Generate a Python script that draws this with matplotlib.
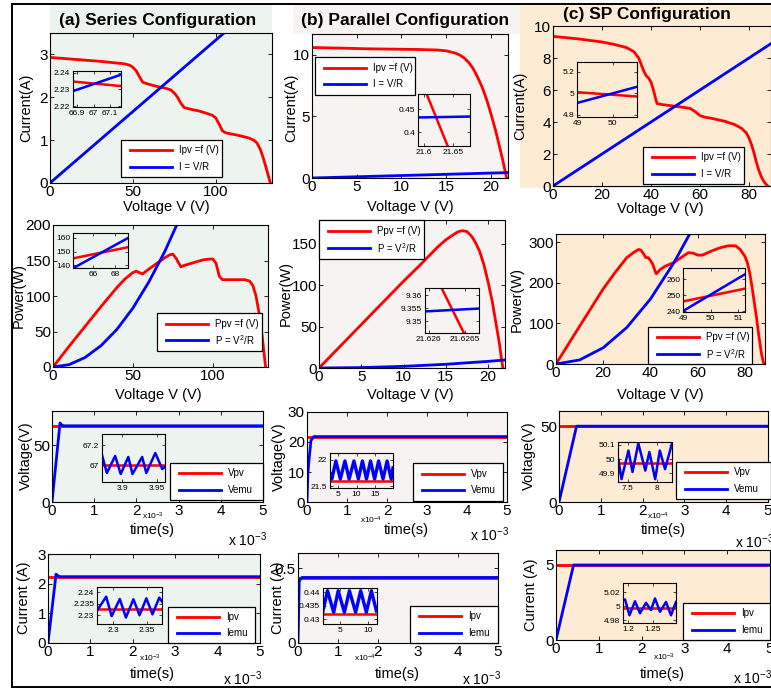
import matplotlib
matplotlib.use("Agg")
import matplotlib.pyplot as plt
from matplotlib.patches import Rectangle
from matplotlib.lines import Line2D

plt.rcParams['font.family'] = 'Liberation Sans'
plt.rcParams['mathtext.fontset'] = 'custom'
plt.rcParams['mathtext.rm'] = 'Liberation Sans'
plt.rcParams['mathtext.it'] = 'Liberation Sans:italic'
plt.rcParams['mathtext.bf'] = 'Liberation Sans:bold'

W, H = 771, 690
RED = '#ff0000'
BLUE = '#0000ff'
BG = {'a': '#edf3ee', 'b': '#f7f3f2', 'c': '#fdebd3'}

# ---------------- I-V and P-V curves ----------------
# series configuration
v_ser = [0, 10, 20, 30, 40, 45, 48, 50, 52, 54, 56, 60, 65, 70, 73, 75, 77, 79, 81,
         85, 90, 95, 98, 100, 102, 104, 106, 110, 115, 120, 123, 125, 127, 129, 131, 133]
i_ser = [2.93, 2.90, 2.87, 2.84, 2.80, 2.78, 2.75, 2.70, 2.62, 2.48, 2.35, 2.30, 2.25,
         2.21, 2.17, 2.10, 2.00, 1.86, 1.76, 1.72, 1.68, 1.62, 1.58, 1.52, 1.38, 1.22,
         1.17, 1.14, 1.10, 1.05, 1.00, 0.93, 0.78, 0.55, 0.28, 0.0]
v_ser_load = [0, 105]
i_ser_load = [0, 3.5]
v_ser_p = [0, 10, 20, 30, 40, 45, 50, 52, 54, 56, 60, 65, 70, 73, 75, 77, 79, 80, 82,
           88, 94, 98, 100, 102, 104, 106, 110, 115, 120, 123, 125, 127, 129, 131, 133]
p_ser = [0, 29, 57, 85, 112, 124, 133, 135, 133, 131, 138, 146, 154, 158, 159, 153, 145,
         141, 143, 147, 151, 152, 152, 146, 128, 123, 123, 123, 123, 121, 115, 100, 75, 40, 0]
v_ser_pload = [0, 10, 20, 30, 40, 50, 60, 70, 78]
p_ser_load = [0, 3.3, 13.3, 30, 53, 83, 120, 163, 203]

# parallel configuration
v_par = [0, 2, 4, 6, 8, 10, 12, 14, 15, 16, 16.5, 17, 17.5, 18, 18.5, 19, 19.5, 20,
         20.5, 21, 21.3, 21.6, 21.75]
i_par = [10.6, 10.57, 10.54, 10.5, 10.48, 10.46, 10.44, 10.4, 10.33, 10.15, 10.0, 9.75,
         9.4, 8.9, 8.2, 7.4, 6.4, 5.2, 3.9, 2.4, 1.5, 0.49, 0.0]
v_par_load = [0, 21.9]
i_par_load = [0, 0.438]
p_par = [0, 21, 42, 63, 84, 105, 125, 146, 155, 162, 165, 166, 165, 160, 152, 141, 125,
         104, 80, 50, 32, 10, 0]
v_par_pload = [0, 5, 10, 15, 20, 21.9]
p_par_load = [0, 0.5, 2, 4.5, 8, 9.6]

# series-parallel configuration
v_sp = [0, 10, 20, 25, 30, 33, 35, 36, 37, 38, 39, 40, 41, 42, 42.5, 45, 48, 50, 53, 56,
        58, 60, 62, 65, 70, 74, 77, 79, 80, 81, 82, 83, 84, 85, 86, 87, 87.7]
i_sp = [9.35, 9.2, 9.0, 8.85, 8.65, 8.4, 8.0, 7.6, 7.2, 6.9, 6.75, 6.5, 6.0, 5.4, 5.15,
        5.08, 5.02, 4.98, 4.92, 4.85, 4.65, 4.4, 4.3, 4.22, 4.05, 3.85, 3.6, 3.3, 3.0,
        2.6, 2.1, 1.5, 1.0, 0.6, 0.3, 0.1, 0.0]
v_sp_load = [0, 89]
i_sp_load = [0, 8.9]
v_sp_p = [0, 10, 20, 25, 30, 33, 35, 36, 37, 38, 39, 40, 41, 42, 42.5, 44, 46, 48, 50,
          53, 56, 58, 60, 62, 65, 68, 70, 73, 76, 78, 80, 81, 82, 83, 84, 85, 86, 87, 88]
p_sp = [0, 93, 185, 225, 262, 275, 282, 280, 272, 262, 262, 255, 245, 228, 222, 232, 240,
        245, 250, 262, 274, 273, 268, 268, 276, 283, 287, 291, 291, 282, 265, 250, 225,
        190, 150, 110, 65, 25, 0]
v_sp_pload = [0, 10, 20, 30, 40, 50, 56.6]
p_sp_load = [0, 10, 40, 90, 160, 250, 320]

# zoomed views of the operating points
z_ser_v = [66.875, 67.165]
z_ser_ipv = [2.2347, 2.2320]
z_ser_iload = [2.2290, 2.2388]
z_par_v = [21.604, 21.642]
z_par_ipv = [0.486, 0.368]
z_par_vload = [21.59, 21.68]
z_par_iload = [0.432, 0.434]
z_sp_v = [49, 50.69]
z_sp_ipv = [5.01, 4.97]
z_sp_iload = [4.91, 5.06]
z_ser_vp = [64.2, 69.2]
z_ser_ppv = [144.9, 153.2]
z_ser_pload = [137.6, 160.0]
z_par_vp = [21.62618, 21.62649]
z_par_ppv = [9.3627, 9.3454]
z_par_vpload = [21.62595, 21.6267]
z_par_pload = [9.3537, 9.3548]
z_sp_vp = [49, 51.25]
z_sp_ppv = [246, 254]
z_sp_pload = [240, 263]

# ---------------- emulator transients (time in ms) ----------------
t_span = [0, 5]
vpv_ser, vpv_par, vpv_sp = 67.0, 21.6, 50.0
t_vemu_ser = [0, 0.19, 0.22, 0.27, 5]
vemu_ser = [0, 69.5, 68, 67, 67]
t_vemu_par = [0, 0.02, 0.05, 0.1, 0.17, 5]
vemu_par = [0, 9, 14, 20.5, 21.8, 21.8]
t_vemu_sp = [0, 0.42, 5]
vemu_sp = [0, 50, 50]
ipv_ser, ipv_par, ipv_sp = 2.2325, 0.4318, 4.997
t_iemu_ser = [0, 0.19, 0.23, 0.28, 5]
iemu_ser = [0, 2.32, 2.27, 2.235, 2.235]
t_iemu_par = [0, 0.015, 0.03, 0.06, 0.1, 5]
iemu_par = [0, 0.2, 0.41, 0.425, 0.437, 0.437]
t_iemu_sp = [0, 0.41, 5]
iemu_sp = [0, 5.0, 5.0]

# ripple around the steady state
zt_vser = [3.871, 3.878, 3.890, 3.898, 3.909, 3.915, 3.929, 3.935, 3.948, 3.958, 3.962]
zv_vser = [67.10, 66.92, 67.09, 66.91, 67.08, 66.91, 67.08, 66.92, 67.12, 66.96, 66.98]
zt_vpar = [2.8, 3.3, 4.4, 5.6, 6.85, 8.0, 9.3, 10.5, 11.6, 12.7, 13.8, 14.9, 16.0, 17.2,
           18.3, 19.4, 19.9]
zv_vpar = [21.75, 21.64, 21.98, 21.64, 21.98, 21.64, 21.98, 21.64, 21.98, 21.64, 21.98,
           21.64, 21.98, 21.64, 21.98, 21.64, 21.85]
zt_vsp = [7.336, 7.39, 7.51, 7.58, 7.68, 7.80, 7.87, 7.97, 8.05, 8.14, 8.26]
zv_vsp = [50.0, 49.86, 50.06, 49.91, 50.11, 49.92, 50.05, 49.86, 50.06, 49.93, 50.11]
zt_iser = [2.277, 2.290, 2.298, 2.310, 2.319, 2.330, 2.339, 2.349, 2.358, 2.368, 2.372]
zi_iser = [2.2322, 2.2380, 2.2296, 2.2370, 2.2290, 2.2369, 2.2300, 2.2373, 2.2304,
           2.2376, 2.2359]
zt_ipar = [2.0, 2.8, 3.9, 4.7, 5.8, 6.7, 7.8, 8.7, 9.7, 10.6, 11.5]
zi_ipar = [0.433, 0.4405, 0.4325, 0.4405, 0.4325, 0.4405, 0.4325, 0.4405, 0.4325, 0.4405,
           0.433]
zt_isp = [1.19, 1.194, 1.203, 1.214, 1.224, 1.236, 1.246, 1.254, 1.264, 1.276, 1.286, 1.296]
zi_isp = [5.0085, 5.0095, 4.987, 5.007, 4.990, 5.0047, 4.9944, 5.011, 4.992, 5.006,
          4.987, 5.006]

fig = plt.figure(figsize=(W / 100, H / 100), dpi=100)


def fx(x):
    return x / W


def fy(y):
    return 1 - y / H


def fbox(l, t, r, b):
    return [l / W, 1 - b / H, (r - l) / W, (b - t) / H]


def fmt(v):
    return f'{v:g}'


def main_axes(rect, col, xlim, ylim, xticks, yticks, xlabel, ylabel, xl, yl):
    ax = fig.add_axes(fbox(*rect))
    ax.set_facecolor(BG[col])
    ax.set_xlim(xlim)
    ax.set_ylim(ylim)
    ax.set_xticks(xticks, [fmt(v) for v in xticks])
    ax.set_yticks(yticks, [fmt(v) for v in yticks])
    ax.tick_params(direction='in', top=True, right=True, labelsize=11,
                   length=3, width=0.6, pad=1.5)
    for s in ax.spines.values():
        s.set_linewidth(0.8)
    ax.set_xlabel(xlabel, fontsize=10.5)
    ax.xaxis.set_label_coords(fx(xl[0]), fy(xl[1]), transform=fig.transFigure)
    ax.set_ylabel(ylabel, fontsize=10.5)
    ax.yaxis.set_label_coords(fx(yl[0]), fy(yl[1]), transform=fig.transFigure)
    return ax


def inset(rect, col, xlim, ylim, xticks, yticks):
    ax = fig.add_axes(fbox(*rect))
    ax.set_facecolor(BG[col])
    ax.set_xlim(xlim)
    ax.set_ylim(ylim)
    ax.set_xticks(xticks, [fmt(v) for v in xticks])
    ax.set_yticks(yticks, [fmt(v) for v in yticks])
    ax.tick_params(direction='in', top=True, right=True, labelsize=6,
                   length=2, width=0.5, pad=2)
    for s in ax.spines.values():
        s.set_linewidth(0.8)
    return ax


def legend_box(box, entries):
    l, t, r, b = box
    fig.add_artist(Rectangle((fx(l), fy(b)), (r - l) / W, (b - t) / H,
                             transform=fig.transFigure, facecolor='white',
                             edgecolor='black', lw=0.9, zorder=5))
    for k, (c, lab) in enumerate(entries):
        y = t + (b - t) * (0.28 + 0.44 * k)
        fig.add_artist(Line2D([fx(l + 9), fx(l + 51)], [fy(y), fy(y)], color=c, lw=2,
                              transform=fig.transFigure, zorder=6))
        fig.text(fx(l + 58), fy(y), lab, fontsize=7, va='center', ha='left', zorder=6)


# title strips and frame
for (l, t, r, b), col in [((50, 4, 272, 33), 'a'), ((293, 4, 520, 34), 'b'),
                          ((520, 4, 771, 188), 'c')]:
    fig.add_artist(Rectangle((fx(l), fy(b)), (r - l) / W, (b - t) / H,
                             transform=fig.transFigure, facecolor=BG[col],
                             edgecolor='none', zorder=-1))
fig.text(fx(158), fy(21), '(a) Series Configuration', fontsize=12.5, fontweight='bold',
         ha='center', va='center')
fig.text(fx(405), fy(20), '(b) Parallel Configuration', fontsize=12.5, fontweight='bold',
         ha='center', va='center')
fig.text(fx(647), fy(15), '(c) SP Configuration', fontsize=12.5, fontweight='bold',
         ha='center', va='center')
for xs, ys in [([12, 771], [4, 4]), ([12, 12], [4, 687]), ([12, 771], [687, 687])]:
    fig.add_artist(Line2D([fx(x) for x in xs], [fy(y) for y in ys], color='black',
                          lw=1.4, transform=fig.transFigure, zorder=7))

iv = [(RED, 'Ipv =f (V)'), (BLUE, 'I = V/R')]
pv = [(RED, 'Ppv =f (V)'), (BLUE, r'P = V$^2$/R')]
vt = [(RED, 'Vpv'), (BLUE, 'Vemu')]
it = [(RED, 'Ipv'), (BLUE, 'Iemu')]
LW = 2

# ---- row 1: I-V ----
ax = main_axes((50, 33, 272, 183), 'a', (0, 134), (0, 3.5), [0, 50, 100], [0, 1, 2, 3],
               'Voltage V (V)', 'Current(A)', (166, 200), (33, 108))
ax.plot(v_ser, i_ser, color=RED, lw=LW)
ax.plot(v_ser_load, i_ser_load, color=BLUE, lw=LW)
ax = inset((73, 71, 121, 107), 'a', (66.875, 67.165), (2.2195, 2.241), [66.9, 67, 67.1],
           [2.22, 2.23, 2.24])
ax.plot(z_ser_v, z_ser_ipv, color=RED, lw=1.8)
ax.plot(z_ser_v, z_ser_iload, color=BLUE, lw=1.8)
legend_box((121, 140, 222, 177), iv)

ax = main_axes((312, 34, 508, 178), 'b', (0, 21.9), (0, 11.7), [0, 5, 10, 15, 20],
               [0, 5, 10], 'Voltage V (V)', 'Current(A)', (410, 200), (298, 108))
ax.plot(v_par, i_par, color=RED, lw=LW)
ax.plot(v_par_load, i_par_load, color=BLUE, lw=LW)
ax = inset((418, 94, 470, 146), 'b', (21.59, 21.68), (0.37, 0.483), [21.6, 21.65],
           [0.4, 0.45])
ax.plot(z_par_v, z_par_ipv, color=RED, lw=1.8)
ax.plot(z_par_vload, z_par_iload, color=BLUE, lw=1.8)
legend_box((315, 57, 415, 95), iv)

ax = main_axes((553, 26, 771, 186), 'c', (0, 89), (0, 10), [0, 20, 40, 60, 80],
               [0, 2, 4, 6, 8, 10], 'Voltage V (V)', 'Current(A)', (660, 202), (527, 106))
ax.plot(v_sp, i_sp, color=RED, lw=LW)
ax.plot(v_sp_load, i_sp_load, color=BLUE, lw=LW)
ax = inset((577, 62, 637, 117), 'c', (49, 50.69), (4.78, 5.29), [49, 50], [4.8, 5, 5.2])
ax.plot(z_sp_v, z_sp_ipv, color=RED, lw=1.8)
ax.plot(z_sp_v, z_sp_iload, color=BLUE, lw=1.8)
legend_box((643, 147, 744, 184), iv)

# ---- row 2: P-V ----
ax = main_axes((53, 225, 268, 367), 'a', (0, 134.5), (0, 200), [0, 50, 100],
               [0, 50, 100, 150, 200], 'Voltage V (V)', 'Power(W)', (158, 388), (26, 296))
ax.plot(v_ser_p, p_ser, color=RED, lw=LW)
ax.plot(v_ser_pload, p_ser_load, color=BLUE, lw=LW)
ax = inset((73, 233, 128, 268), 'a', (64.2, 69.2), (137.8, 163.7), [66, 68],
           [140, 150, 160])
ax.plot(z_ser_vp, z_ser_ppv, color=RED, lw=1.8)
ax.plot(z_ser_vp, z_ser_pload, color=BLUE, lw=1.8)
legend_box((157, 313, 262, 351), pv)

ax = main_axes((319, 220, 505, 368), 'b', (0, 22), (0, 179), [0, 5, 10, 15, 20],
               [0, 50, 100, 150], 'Voltage V (V)', 'Power(W)', (410, 388), (293, 294))
ax.plot(v_par, p_par, color=RED, lw=LW)
ax.plot(v_par_pload, p_par_load, color=BLUE, lw=LW)
ax = inset((425, 288, 479, 333), 'b', (21.62595, 21.6267), (9.3454, 9.3627),
           [21.626, 21.6265], [9.35, 9.355, 9.36])
ax.plot(z_par_vp, z_par_ppv, color=RED, lw=1.8)
ax.plot(z_par_vpload, z_par_pload, color=BLUE, lw=1.8)
legend_box((319, 220, 424, 259), pv)

ax = main_axes((556, 234, 765, 364), 'c', (0, 88.5), (0, 320), [0, 20, 40, 60, 80],
               [0, 100, 200, 300], 'Voltage V (V)', 'Power(W)', (660, 388), (524, 299))
ax.plot(v_sp_p, p_sp, color=RED, lw=LW)
ax.plot(v_sp_pload, p_sp_load, color=BLUE, lw=LW)
ax = inset((683, 268, 745, 312), 'c', (49, 51.25), (239.4, 266.9), [49, 50, 51],
           [240, 250, 260])
ax.plot(z_sp_vp, z_sp_ppv, color=RED, lw=1.8)
ax.plot(z_sp_vp, z_sp_pload, color=BLUE, lw=1.8)
legend_box((648, 327, 752, 364), pv)

# ---- row 3: voltage transients ----
tt = [0, 1, 2, 3, 4, 5]
ax = main_axes((52, 411, 263, 502), 'a', (0, 5), (0, 80), tt, [0, 50], 'time(s)',
               'Voltage(V)', (152, 523), (33, 456))
ax.plot(t_span, [vpv_ser] * 2, color=RED, lw=LW)
ax.plot(t_vemu_ser, vemu_ser, color=BLUE, lw=LW)
ax = inset((102, 434, 165, 482), 'a', (3.871, 3.962), (66.83, 67.31), [3.9, 3.95],
           [67, 67.2])
ax.plot([3.871, 3.962], [vpv_ser] * 2, color=RED, lw=1.8)
ax.plot(zt_vser, zv_vser, color=BLUE, lw=1.8)
legend_box((170, 463, 263, 500), vt)

ax = main_axes((307, 412, 507, 502), 'b', (0, 5), (0, 30), tt, [0, 10, 20, 30], 'time(s)',
               'Voltage(V)', (406, 523), (286, 457))
ax.plot(t_span, [vpv_par] * 2, color=RED, lw=LW)
ax.plot(t_vemu_par, vemu_par, color=BLUE, lw=LW)
ax = inset((330, 453, 393, 488), 'b', (2.8, 19.9), (21.47, 22.13), [5, 10, 15],
           [21.5, 22])
ax.plot([2.8, 19.9], [vpv_par] * 2, color=RED, lw=1.8)
ax.plot(zt_vpar, zv_vpar, color=BLUE, lw=2.4)
legend_box((413, 463, 503, 501), vt)

ax = main_axes((559, 411, 768, 502), 'c', (0, 5), (0, 60), tt, [0, 50], 'time(s)',
               'Voltage(V)', (663, 523), (536, 456))
ax.plot(t_span, [vpv_sp] * 2, color=RED, lw=LW)
ax.plot(t_vemu_sp, vemu_sp, color=BLUE, lw=LW)
ax = inset((618, 442, 672, 482), 'c', (7.33, 8.26), (49.84, 50.12), [7.5, 8],
           [49.9, 50, 50.1])
ax.plot([7.33, 8.26], [49.97] * 2, color=RED, lw=1.8)
ax.plot(zt_vsp, zv_vsp, color=BLUE, lw=1.8)
legend_box((676, 462, 771, 499), vt)

# ---- row 4: current transients ----
ax = main_axes((48, 554, 260, 643), 'a', (0, 5), (0, 3), tt, [0, 1, 2, 3], 'time(s)',
               'Current (A)', (152, 667), (31, 598))
ax.plot(t_span, [ipv_ser] * 2, color=RED, lw=LW)
ax.plot(t_iemu_ser, iemu_ser, color=BLUE, lw=LW)
ax = inset((97, 587, 162, 624), 'a', (2.2765, 2.372), (2.2262, 2.2422), [2.3, 2.35],
           [2.23, 2.235, 2.24])
ax.plot([2.2765, 2.372], [ipv_ser] * 2, color=RED, lw=1.8)
ax.plot(zt_iser, zi_iser, color=BLUE, lw=1.8)
legend_box((168, 607, 255, 643), it)

ax = main_axes((298, 553, 498, 643), 'b', (0, 5), (0, 0.6), tt, [0, 0.5], 'time(s)',
               'Current (A)', (397, 667), (285, 598))
ax.plot(t_span, [ipv_par] * 2, color=RED, lw=LW)
ax.plot(t_iemu_par, iemu_par, color=BLUE, lw=LW)
ax = inset((323, 588, 377, 624), 'b', (2.0, 11.6), (0.4282, 0.4415), [5, 10],
           [0.43, 0.435, 0.44])
ax.plot([2.0, 11.6], [ipv_par] * 2, color=RED, lw=1.8)
ax.plot(zt_ipar, zi_ipar, color=BLUE, lw=2.4)
legend_box((410, 606, 498, 643), it)

ax = main_axes((556, 550, 770, 640), 'c', (0, 5), (0, 6), tt, [0, 5], 'time(s)',
               'Current (A)', (662, 667), (538, 595))
ax.plot(t_span, [ipv_sp] * 2, color=RED, lw=LW)
ax.plot(t_iemu_sp, iemu_sp, color=BLUE, lw=LW)
ax = inset((623, 583, 676, 623), 'c', (1.19, 1.296), (4.976, 5.033), [1.2, 1.25],
           [4.98, 5, 5.02])
ax.plot([1.19, 1.296], [ipv_sp] * 2, color=RED, lw=1.8)
ax.plot(zt_isp, zi_isp, color=BLUE, lw=1.8)
legend_box((683, 603, 770, 640), it)

# exponent labels for the time axes
for x, y in [(228, 540), (470, 535), (735, 542), (223, 679), (462, 679), (733, 678)]:
    fig.text(fx(x), fy(y), r'x 10$^{-3}$', fontsize=10, ha='left', va='center')
for x, y, e in [(142, 516, -3), (360, 520, -4), (647, 516, -4), (139, 658, -3),
                (354, 658, -4), (653, 657, -3)]:
    fig.text(fx(x), fy(y), r'x10$^{%d}$' % e, fontsize=6, ha='left', va='center')

fig.savefig('out.png', dpi=100)
